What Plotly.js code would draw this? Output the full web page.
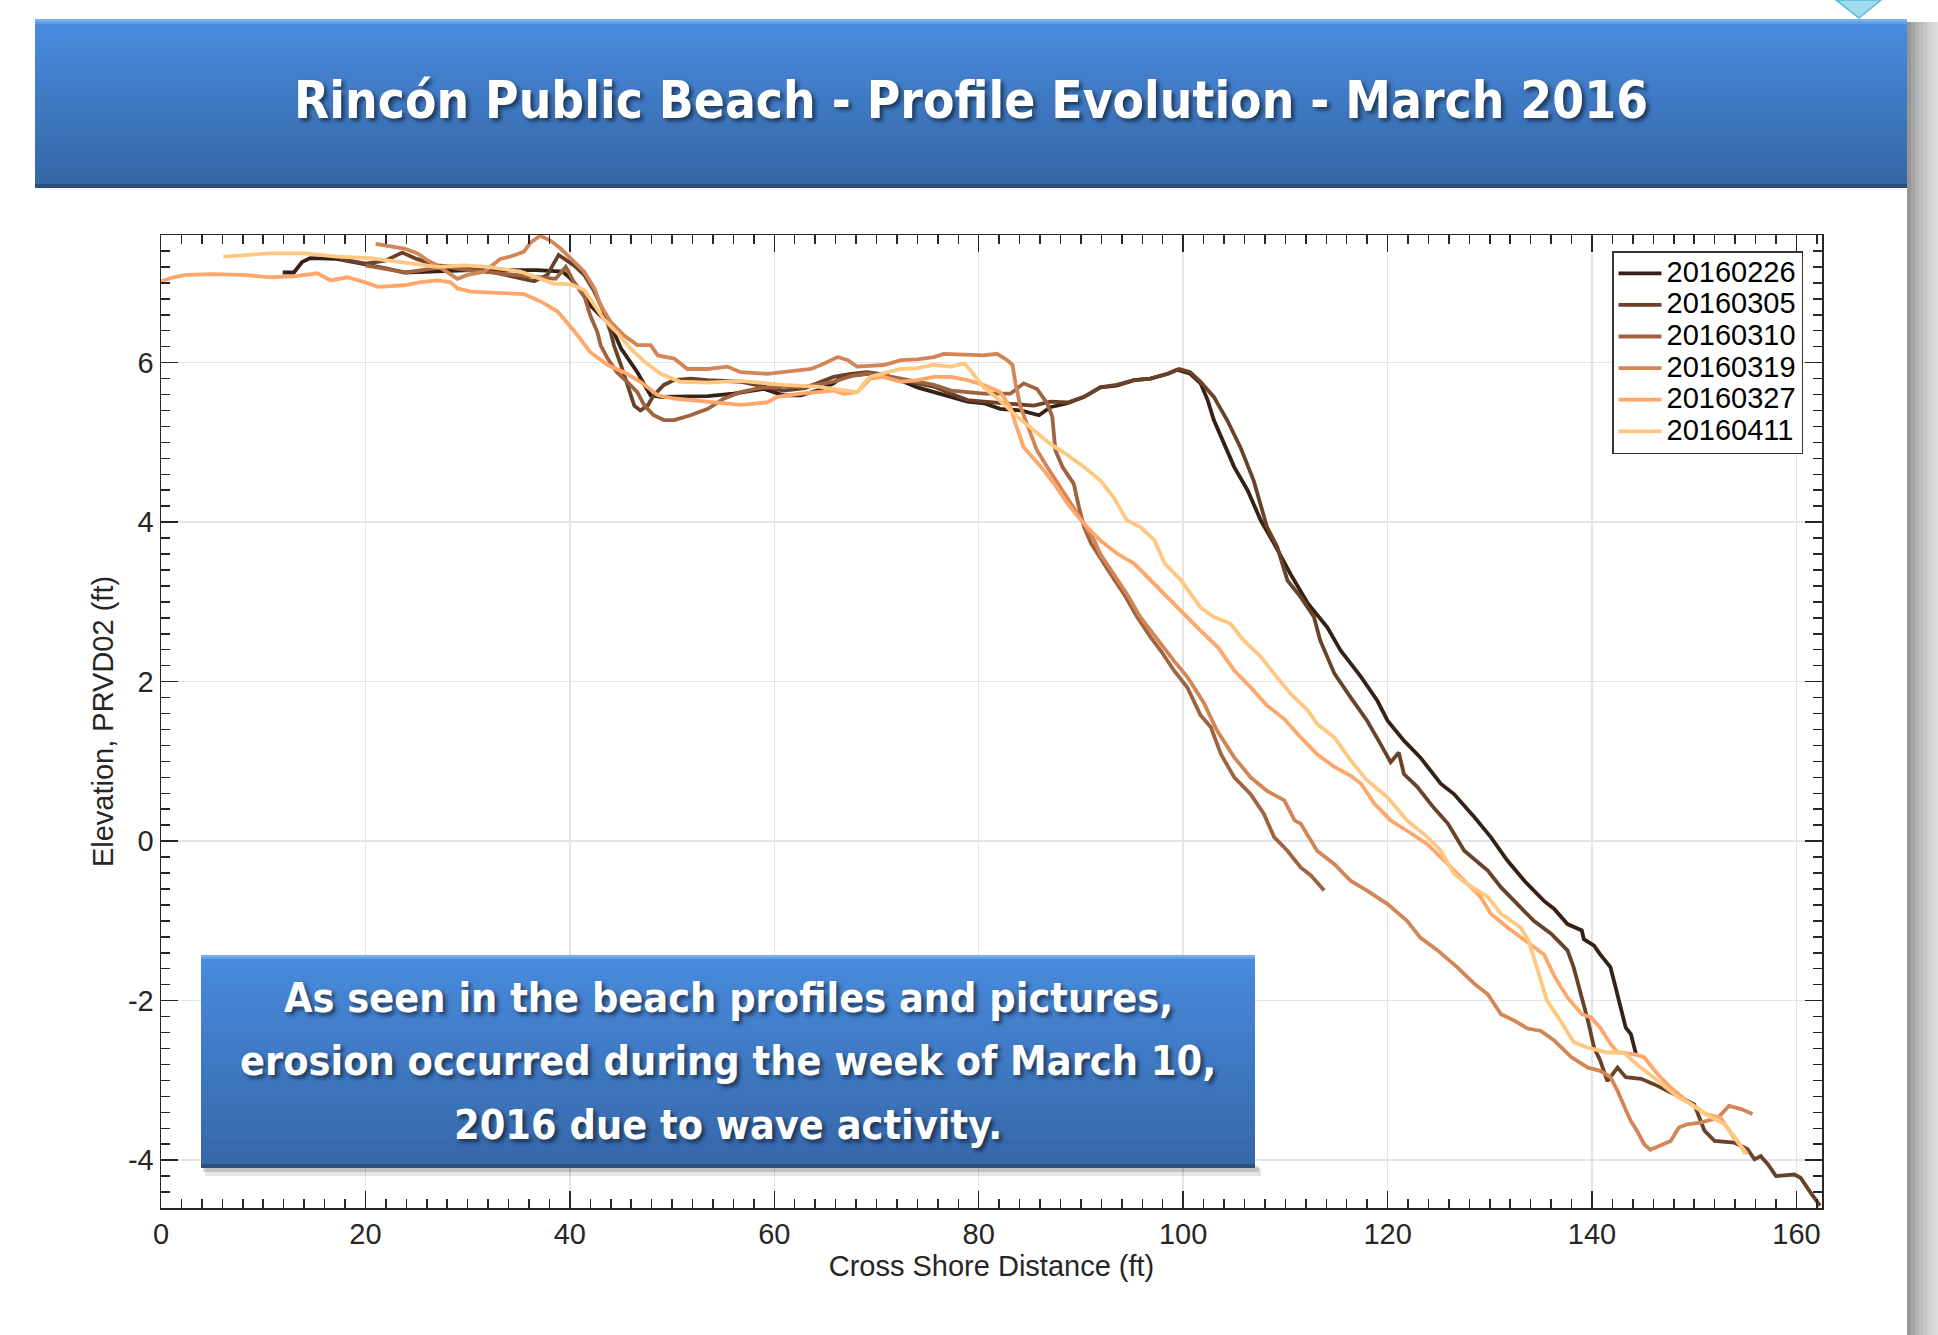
<!DOCTYPE html>
<html><head><meta charset="utf-8">
<script src="https://cdn.plot.ly/plotly-3.0.1.min.js"></script>
<style>html,body{margin:0;padding:0;background:#fff;overflow:hidden}#chart{width:1938px;height:1335px}</style>
</head><body><div id="chart"></div>
<script>
// ---------- data ----------
const seriesNames = ['20160226','20160305','20160310','20160319','20160327','20160411'];
const seriesColors = ['rgb(53,33,21)','rgb(106,66,42)','rgb(159,100,63)','rgb(212,133,85)','rgb(255,166,106)','rgb(255,199,127)'];

const x_20160226 = [11.9,13.0,13.8,14.6,17.2,18.9,20.5,22.1,23.8,25.4,27.0,30.3,33.5,36.8,39.3,40.1,41.1,42.0,43.0,44.0,45.0,45.9,46.6,47.3,47.9,48.9,51.0,53.5,56.0,57.7,59.0,60.9,62.6,64.2,65.8,66.8,69.1,70.7,72.3,74.0,75.6,77.3,78.9,80.5,82.1,84.1,85.9,87.0,88.7,90.3,91.9,93.5,95.2,96.8,98.5,99.4,100.7,101.7,102.4,103.0,103.7,105.0,106.3,107.6,108.9,110.5,112.2,114.1,115.4,117.4,119.0,120.0,121.6,123.2,125.2,126.5,128.5,130.1,131.7,133.4,135.3,136.3,137.6,139.0,139.2,140.2,140.8,141.8,142.3,142.8,143.3,143.8,144.3];
const y_20160226 = [7.13,7.13,7.26,7.31,7.30,7.26,7.22,7.18,7.13,7.14,7.14,7.16,7.16,7.16,7.14,7.05,6.89,6.72,6.59,6.47,6.18,6.01,5.88,5.72,5.59,5.57,5.57,5.58,5.61,5.65,5.67,5.59,5.59,5.65,5.74,5.84,5.86,5.82,5.78,5.69,5.63,5.57,5.51,5.49,5.42,5.40,5.34,5.44,5.49,5.57,5.69,5.71,5.78,5.80,5.86,5.91,5.86,5.74,5.53,5.28,5.07,4.69,4.40,4.02,3.73,3.35,2.98,2.68,2.39,2.06,1.76,1.51,1.26,1.05,0.72,0.59,0.30,0.05,-0.24,-0.50,-0.75,-0.85,-1.04,-1.12,-1.23,-1.31,-1.42,-1.58,-1.83,-2.09,-2.34,-2.42,-2.67];

const x_20160305 = [17.5,20.0,22.0,23.6,25.0,27.0,29.0,31.0,33.0,35.0,36.5,37.8,38.9,40.4,41.4,42.4,43.3,44.0,44.3,45.0,45.6,46.3,46.9,47.6,48.2,49.2,50.2,51.8,53.5,56.7,59.3,60.9,63.0,65.8,67.5,69.1,70.7,72.3,74.0,75.6,77.3,78.9,80.5,82.1,83.8,85.4,87.0,88.7,90.3,91.9,93.5,95.2,96.8,98.5,99.6,100.7,101.7,103.0,104.3,105.6,106.9,108.2,109.2,110.2,111.5,112.8,113.4,114.8,116.4,118.0,119.3,120.3,121.1,121.6,122.9,124.5,125.9,127.5,129.8,131.1,132.7,134.3,136.0,137.6,138.2,138.9,139.6,140.2,140.8,141.5,142.5,143.3,144.8,146.1,147.4,148.7,150.0,151.0,152.0,153.9,155.2,155.9,156.5,157.2,158.0,159.8,160.4,161.4,162.3];
const y_20160305 = [7.30,7.24,7.28,7.38,7.30,7.22,7.20,7.18,7.12,7.06,7.02,7.10,7.35,7.22,7.10,6.89,6.64,6.38,6.22,5.97,5.72,5.46,5.40,5.46,5.59,5.72,5.78,5.80,5.78,5.76,5.69,5.65,5.68,5.82,5.86,5.88,5.85,5.78,5.74,5.70,5.61,5.53,5.51,5.49,5.47,5.46,5.51,5.50,5.57,5.69,5.72,5.78,5.80,5.86,5.92,5.88,5.76,5.57,5.28,4.94,4.52,3.94,3.69,3.27,3.06,2.81,2.52,2.10,1.80,1.51,1.22,0.99,1.11,0.84,0.68,0.42,0.22,-0.12,-0.37,-0.58,-0.79,-1.00,-1.16,-1.37,-1.58,-1.92,-2.25,-2.59,-2.75,-3.01,-2.84,-2.96,-2.98,-3.05,-3.13,-3.21,-3.30,-3.63,-3.76,-3.78,-3.86,-3.99,-3.95,-4.05,-4.20,-4.18,-4.22,-4.41,-4.57];

const x_20160310 = [20.0,22.0,24.0,26.0,28.0,30.0,33.0,36.0,38.6,39.6,40.4,41.4,42.0,42.7,43.0,43.7,44.6,45.6,46.6,47.3,48.2,49.2,50.2,51.8,53.5,55.1,56.7,58.5,60.9,63.0,65.8,67.5,69.1,70.7,72.3,74.0,75.6,77.3,80.5,83.1,84.4,85.7,86.7,87.2,87.5,88.2,89.3,89.8,90.3,91.0,91.9,92.9,94.2,95.5,96.8,97.8,99.1,100.4,101.7,102.7,103.7,105.0,106.6,107.9,108.9,110.2,111.5,112.5,113.8];
const y_20160310 = [7.22,7.17,7.13,7.17,7.20,7.16,7.12,7.08,7.05,7.20,7.01,6.84,6.59,6.38,6.22,6.05,5.88,5.76,5.63,5.46,5.34,5.28,5.28,5.34,5.42,5.55,5.63,5.68,5.70,5.70,5.76,5.83,5.86,5.84,5.80,5.76,5.72,5.65,5.61,5.61,5.74,5.67,5.49,5.32,4.90,4.69,4.48,4.19,3.94,3.73,3.56,3.35,3.10,2.81,2.56,2.39,2.14,1.93,1.58,1.43,1.09,0.80,0.59,0.34,0.05,-0.12,-0.33,-0.43,-0.62];

const x_20160319 = [21.0,23.8,25.1,26.1,27.0,28.0,29.0,30.0,31.6,33.2,34.2,35.5,36.2,37.1,38.1,39.1,40.1,41.4,42.4,43.0,44.0,45.3,46.6,47.9,48.6,50.2,51.5,53.5,55.4,56.7,59.3,60.9,63.6,64.9,66.2,67.2,68.1,70.7,72.4,74.0,75.6,76.6,78.9,80.5,81.8,82.8,83.3,83.6,84.1,84.8,85.7,86.7,88.0,89.3,90.3,91.3,91.9,93.2,94.5,95.8,97.5,99.1,100.4,102.0,103.3,105.0,106.6,108.2,109.9,110.9,111.5,113.1,114.8,116.4,118.0,120.0,121.9,123.2,124.9,126.8,128.5,129.8,131.1,132.4,133.7,135.0,136.3,138.0,139.6,140.8,141.8,142.5,143.2,143.8,144.4,145.1,145.7,146.7,147.7,148.5,149.3,150.6,152.3,153.4,154.6,155.7];
const y_20160319 = [7.49,7.43,7.37,7.28,7.22,7.14,7.05,7.10,7.14,7.30,7.33,7.39,7.51,7.59,7.53,7.43,7.30,7.14,6.93,6.72,6.51,6.34,6.22,6.22,6.09,6.05,5.92,5.92,5.95,5.88,5.86,5.88,5.92,5.99,6.07,6.03,5.95,5.97,6.03,6.04,6.07,6.11,6.10,6.09,6.11,6.03,5.97,5.74,5.44,5.19,4.90,4.69,4.44,4.19,3.98,3.77,3.60,3.35,3.10,2.81,2.52,2.26,2.06,1.74,1.39,1.05,0.80,0.63,0.51,0.26,0.22,-0.12,-0.29,-0.50,-0.62,-0.79,-1.00,-1.21,-1.37,-1.58,-1.79,-1.92,-2.17,-2.25,-2.35,-2.38,-2.50,-2.71,-2.84,-2.88,-2.96,-3.13,-3.34,-3.51,-3.63,-3.80,-3.87,-3.82,-3.76,-3.59,-3.55,-3.53,-3.47,-3.32,-3.36,-3.42];

const x_20160327 = [0.0,1.2,2.5,5.0,8.0,10.7,13.0,15.3,16.6,18.2,19.9,21.2,23.8,25.4,27.0,28.3,29.0,30.3,33.6,35.5,37.1,38.8,40.4,42.0,43.7,45.3,46.9,48.6,50.2,53.5,56.7,59.3,60.3,62.6,64.2,65.8,66.8,68.1,69.4,70.7,72.4,74.0,75.6,77.3,78.9,80.5,82.1,83.1,83.6,84.4,86.1,87.4,88.7,90.3,91.9,93.6,95.2,96.8,98.5,100.1,101.7,103.4,105.0,106.6,108.2,109.9,111.5,113.1,114.8,116.4,117.4,118.7,120.3,121.9,123.9,125.9,127.8,129.1,130.1,131.7,133.5,135.3,136.3,137.6,139.0,139.9,140.8,141.8,142.5,144.1,145.1,146.4,147.7,149.3,151.1,152.6,153.9,155.2];
const y_20160327 = [7.02,7.07,7.10,7.11,7.10,7.07,7.08,7.12,7.03,7.07,7.01,6.95,6.97,7.01,7.03,7.01,6.93,6.89,6.87,6.86,6.77,6.64,6.40,6.13,5.97,5.88,5.76,5.59,5.55,5.51,5.47,5.50,5.57,5.61,5.63,5.65,5.61,5.63,5.80,5.82,5.76,5.78,5.82,5.82,5.78,5.72,5.63,5.44,5.23,4.94,4.69,4.48,4.23,3.98,3.77,3.60,3.48,3.27,3.06,2.85,2.64,2.43,2.14,1.93,1.70,1.53,1.30,1.09,0.93,0.82,0.72,0.47,0.26,0.13,-0.04,-0.29,-0.54,-0.70,-0.91,-1.08,-1.25,-1.42,-1.69,-1.96,-2.17,-2.21,-2.34,-2.54,-2.65,-2.67,-2.71,-2.92,-3.09,-3.26,-3.42,-3.47,-3.72,-3.92];

const x_20160411 = [6.1,8.0,10.7,14.0,17.2,20.5,23.8,27.0,29.6,31.9,35.2,36.8,38.4,40.1,41.4,42.4,43.3,44.6,45.9,47.3,48.9,50.8,53.5,56.7,60.9,64.2,66.8,68.1,68.8,69.4,71.1,72.4,74.0,75.6,77.3,78.6,79.2,80.5,82.1,83.8,85.4,87.0,88.7,90.3,91.9,93.2,94.5,95.8,97.2,98.2,99.8,101.7,103.0,104.6,105.9,107.6,108.9,110.5,112.2,113.1,114.8,116.4,118.0,120.0,121.9,123.9,125.2,126.5,127.8,129.8,131.1,133.0,133.8,134.6,135.6,136.9,138.2,139.6,141.5,143.1,144.4,146.4,148.4,149.7,151.5,153.0,154.2,155.0];
const y_20160411 = [7.33,7.35,7.37,7.37,7.33,7.31,7.26,7.20,7.22,7.20,7.14,7.07,6.99,6.98,6.91,6.72,6.55,6.38,6.18,6.01,5.86,5.76,5.75,5.77,5.72,5.70,5.65,5.63,5.74,5.82,5.88,5.92,5.93,5.97,5.95,5.99,5.90,5.69,5.52,5.32,5.15,4.98,4.84,4.69,4.52,4.31,4.02,3.94,3.77,3.48,3.27,2.93,2.81,2.73,2.52,2.31,2.10,1.85,1.64,1.47,1.30,1.01,0.76,0.55,0.26,0.05,-0.12,-0.41,-0.54,-0.70,-0.91,-1.08,-1.25,-1.58,-2.00,-2.25,-2.52,-2.59,-2.65,-2.65,-2.80,-3.00,-3.21,-3.30,-3.45,-3.55,-3.75,-3.92];

const xTickVals = [0,20,40,60,80,100,120,140,160];
const yTickVals = [-4,-2,0,2,4,6];
const titleText = 'Rincón Public Beach - Profile Evolution - March 2016';
const noteLines = ['As seen in the beach profiles and pictures,','erosion occurred during the week of March 10,','2016 due to wave activity.'];
const xTitle = 'Cross Shore Distance (ft)';
const yTitle = 'Elevation, PRVD02 (ft)';

// ---------- layout helpers ----------
const W = 1938, H = 1335;
const M = {l:161, r:116, t:235, b:127};
const PW = W - M.l - M.r, PH = H - M.t - M.b;
const px = v => (v - M.l) / PW;
const py = v => 1 - (v - M.t) / PH;

function lerp(a,b,t){return Math.round(a+(b-a)*t);}
function bands(shapes, x0, x1, y0, y1, c0, c1, n, layer){
  const h = (y1-y0)/n;
  for(let i=0;i<n;i++){
    const t = n===1?0:i/(n-1);
    const c = `rgb(${lerp(c0[0],c1[0],t)},${lerp(c0[1],c1[1],t)},${lerp(c0[2],c1[2],t)})`;
    shapes.push({type:'rect', xref:'paper', yref:'paper', layer:layer,
      x0:px(x0), x1:px(x1), y0:py(y0+i*h), y1:py(Math.min(y1,y0+(i+1)*h+0.6)),
      fillcolor:c, line:{width:0}});
  }
}
function rect(shapes, x0,x1,y0,y1,color,layer){
  shapes.push({type:'rect', xref:'paper', yref:'paper', layer:layer,
    x0:px(x0), x1:px(x1), y0:py(y0), y1:py(y1), fillcolor:color, line:{width:0}});
}

const shapes = [];
// slide shadow on the right
const shadowCols = [[150,150,150],[165,165,165],[178,178,178],[190,190,190],[200,200,200],[208,208,208],[215,215,215],[221,221,221]];
for(let i=0;i<shadowCols.length;i++){
  const c = shadowCols[i];
  rect(shapes, 1907+i*4, 1907+(i+1)*4+0.5, 22, 1335, `rgb(${c[0]},${c[1]},${c[2]})`, 'below');
}
// banner
rect(shapes, 35, 1907, 19, 188, 'rgb(44,82,135)', 'below');
bands(shapes, 35, 1907, 19, 24, [125,178,240], [95,155,230], 3, 'below');
bands(shapes, 35, 1907, 24, 184, [72,140,222], [54,102,166], 40, 'below');
rect(shapes, 35, 1907, 184, 188, 'rgb(42,78,128)', 'below');
// small cyan triangle top right
shapes.push({type:'path', xref:'paper', yref:'paper', layer:'below',
  path:`M${px(1836)},${py(0)} L${px(1881)},${py(0)} L${px(1859)},${py(18)} Z`,
  fillcolor:'rgb(160,220,238)', line:{color:'rgb(90,185,215)', width:1.5}});

// note box (above the grid)
rect(shapes, 205, 1261, 1168, 1176, 'rgba(0,0,0,0.10)', 'above');
rect(shapes, 203, 1259, 1166, 1172, 'rgba(0,0,0,0.15)', 'above');
rect(shapes, 201, 1255, 955, 1168, 'rgb(46,86,140)', 'above');
bands(shapes, 201, 1255, 955, 959, [120,175,238], [100,160,232], 2, 'above');
bands(shapes, 201, 1255, 959, 1164, [72,138,220], [55,104,170], 36, 'above');
rect(shapes, 201, 1255, 1164, 1168, 'rgb(44,80,130)', 'above');

// ---------- traces ----------
const xs = [x_20160226,x_20160305,x_20160310,x_20160319,x_20160327,x_20160411];
const ys = [y_20160226,y_20160305,y_20160310,y_20160319,y_20160327,y_20160411];
const traces = seriesNames.map((n,i)=>({
  type:'scatter', mode:'lines', x:xs[i], y:ys[i],
  name:`<span style="font-size:29px">${n}</span>`,
  line:{color:seriesColors[i], width:3.8}
}));

const axisColor = '#262626';
const baseFont = 'Liberation Sans, Arial, Helvetica, sans-serif';
const displayFont = 'DejaVu Sans Condensed, sans-serif';
const shadow = '3px 3px 4px rgba(0,0,0,0.55)';

const noteY = [998, 1061, 1125];
const annotations = [
  {xref:'paper', yref:'paper', x:px(971), y:py(100), xanchor:'center', yanchor:'middle', showarrow:false,
   text:titleText, font:{family:displayFont, size:51, color:'#ffffff', weight:700, shadow:shadow}}
];
noteLines.forEach((t,i)=>annotations.push(
  {xref:'paper', yref:'paper', x:px(728), y:py(noteY[i]), xanchor:'center', yanchor:'middle', showarrow:false,
   text:t, font:{family:displayFont, size:41, color:'#ffffff', weight:700, shadow:shadow}}));

const layout = {
  width: W, height: H,
  margin: {l:M.l, r:M.r, t:M.t, b:M.b, pad:0},
  paper_bgcolor: '#ffffff', plot_bgcolor: '#ffffff',
  font: {family: baseFont, color: axisColor, size: 29},
  showlegend: true,
  legend: {x: px(1612), y: py(251), xanchor:'left', yanchor:'top',
    bgcolor:'#ffffff', bordercolor:'#333333', borderwidth:1.5,
    font:{family: baseFont, size:22, color:'#000000'}, itemwidth:43,
    tracegroupgap:0},
  xaxis: {range:[0,162.5], tickmode:'array', tickvals:xTickVals, ticktext:xTickVals.map(String),
    ticks:'inside', ticklen:17, tickwidth:1.5, tickcolor:axisColor,
    showline:true, linecolor:axisColor, linewidth:1.5, mirror:'ticks',
    showgrid:true, gridcolor:'#e4e4e4', gridwidth:1.5, zeroline:false,
    tickfont:{size:29, color:axisColor, family: baseFont},
    minor:{dtick:2, tick0:0, ticks:'inside', ticklen:9, tickwidth:1.5, tickcolor:axisColor, showgrid:false},
    title:{text:xTitle, font:{size:29, color:axisColor, family: baseFont}, standoff:3}},
  yaxis: {range:[-4.6,7.6], tickmode:'array', tickvals:yTickVals, ticktext:yTickVals.map(String),
    ticks:'inside', ticklen:17, tickwidth:1.5, tickcolor:axisColor,
    showline:true, linecolor:axisColor, linewidth:1.5, mirror:'ticks',
    showgrid:true, gridcolor:'#e4e4e4', gridwidth:1.5, zeroline:false,
    tickfont:{size:29, color:axisColor, family: baseFont},
    minor:{dtick:0.2, tick0:0, ticks:'inside', ticklen:9, tickwidth:1.5, tickcolor:axisColor, showgrid:false},
    title:{text:yTitle, font:{size:29, color:axisColor, family: baseFont}, standoff:6}},
  shapes: shapes,
  annotations: annotations
};

Plotly.newPlot('chart', traces, layout, {displayModeBar:false, staticPlot:true});
</script></body></html>
